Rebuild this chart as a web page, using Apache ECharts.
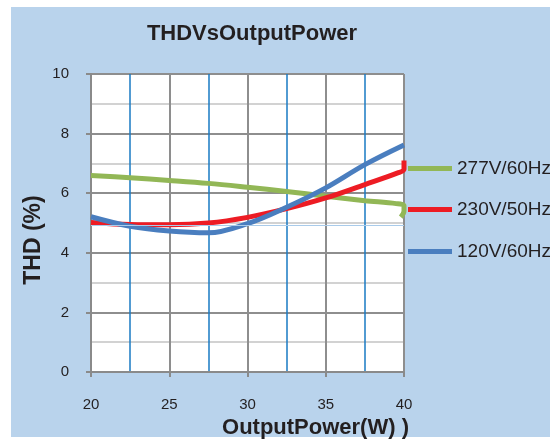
<!DOCTYPE html>
<html>
<head>
<meta charset="utf-8">
<script src="https://cdn.jsdelivr.net/npm/echarts@6/dist/echarts.min.js"></script>
<style>
  html, body { margin: 0; padding: 0; background: #fff; }
  #chart { width: 550px; height: 439px; }
</style>
</head>
<body>
<div id="chart"></div>
<script>
// values
const seriesNames = ['277V/60Hz', '230V/50Hz', '120V/60Hz'];
const v277 = [[20, 6.59], [22.5, 6.52], [25, 6.43], [27.5, 6.33], [30, 6.2], [32.5, 6.06], [35, 5.9], [37.5, 5.75], [39.5, 5.65], [40, 5.58], [40, 5.4], [39.8, 5.2]];
const v230 = [[20, 5.02], [22.5, 4.95], [25, 4.94], [27.5, 5.0], [30, 5.19], [32.5, 5.48], [35, 5.84], [37.5, 6.29], [39.6, 6.68], [40, 6.8], [40, 7.1]];
const v120 = [[20, 5.21], [22.5, 4.89], [25, 4.73], [27.5, 4.67], [30, 4.98], [32.5, 5.53], [35, 6.18], [37.5, 6.96], [40, 7.62]];
const refLine = 4.93;

const colors = ['#92b756', '#ed1c24', '#4a7ebf'];
const ink = '#231f20';
const font = 'Liberation Sans';

let chart = echarts.init(document.getElementById('chart'));

function legendAt(name, top) {
  return {
    data: [name],
    orient: 'vertical',
    left: 408,
    top: top,
    padding: 0,
    icon: 'rect',
    itemWidth: 44,
    itemHeight: 5,
    selectedMode: false,
    textStyle: { color: ink, fontSize: 19, fontFamily: font }
  };
}

function lineSeries(name, data, color) {
  return {
    name: name,
    type: 'line',
    data: data,
    smooth: 0.35,
    symbol: 'none',
    clip: false,
    lineStyle: { color: color, width: 5 },
    itemStyle: { color: color }
  };
}

const series = [
  lineSeries(seriesNames[0], v277, colors[0]),
  lineSeries(seriesNames[1], v230, colors[1]),
  lineSeries(seriesNames[2], v120, colors[2])
];
// thin pale line across the plot, as in the source picture
series[0].markLine = {
  silent: true,
  symbol: 'none',
  label: { show: false },
  lineStyle: { color: '#a9cbea', width: 1, type: 'solid' },
  data: [{ yAxis: refLine }]
};
series[0].z = 2;
series[1].z = 3;
series[2].z = 4;

chart.setOption({
  animation: false,
  graphic: [{
    type: 'rect',
    z: -10,
    shape: { x: 11, y: 7, width: 539, height: 430 },
    style: { fill: '#b9d3ec' }
  }],
  title: {
    text: 'THDVsOutputPower',
    left: 252,
    textAlign: 'center',
    top: 23,
    padding: 0,
    textStyle: { color: ink, fontSize: 22, fontWeight: 'bold', fontFamily: font }
  },
  legend: [
    legendAt(seriesNames[0], 159),
    legendAt(seriesNames[1], 200),
    legendAt(seriesNames[2], 242)
  ],
  grid: {
    left: 91, right: 146, top: 74, bottom: 67,
    outerBoundsMode: 'none',
    show: true, backgroundColor: '#fff', borderWidth: 0
  },
  xAxis: {
    type: 'value',
    min: 20,
    max: 40,
    interval: 5,
    name: 'OutputPower(W) )',
    nameLocation: 'middle',
    nameGap: 44,
    nameTextStyle: { color: ink, fontSize: 22, fontWeight: 'bold', fontFamily: font, padding: [0, 0, 0, 136] },
    axisLine: { lineStyle: { color: '#8a8a8a', width: 2 } },
    axisTick: { show: true, length: 5, lineStyle: { color: '#8a8a8a', width: 2 } },
    axisLabel: { color: ink, fontSize: 15, fontFamily: font, margin: 25 },
    splitLine: { show: true, lineStyle: { color: '#8e8e8e', width: 2 } },
    minorTick: { show: false, splitNumber: 2 },
    minorSplitLine: { show: true, lineStyle: { color: '#1a7bc4', width: 1.5 } }
  },
  yAxis: {
    type: 'value',
    min: 0,
    max: 10,
    interval: 2,
    name: 'THD (%)',
    nameLocation: 'middle',
    nameGap: 46,
    nameMoveOverlap: false,
    nameTextStyle: { color: ink, fontSize: 23, fontWeight: 'bold', fontFamily: font, padding: [0, 34, 0, 0] },
    axisLine: { show: true, lineStyle: { color: '#8a8a8a', width: 2 } },
    axisTick: { show: true, length: 5, lineStyle: { color: '#8a8a8a', width: 2 } },
    axisLabel: { color: ink, fontSize: 15, fontFamily: font, margin: 22 },
    splitLine: { show: true, lineStyle: { color: '#8e8e8e', width: 2 } },
    minorTick: { show: false, splitNumber: 2 },
    minorSplitLine: { show: true, lineStyle: { color: '#c4c4c4', width: 1.5 } }
  },
  series: series
});
</script>
</body>
</html>
